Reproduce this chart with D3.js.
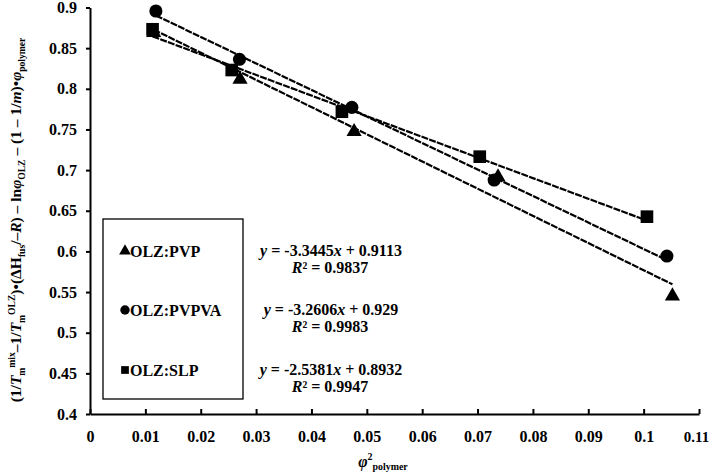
<!DOCTYPE html>
<html>
<head>
<meta charset="utf-8">
<script src="https://cdn.jsdelivr.net/npm/d3@7"></script>
<style>
  body { margin: 0; background: #fff; }
  text { font-family: "Liberation Serif", "Times New Roman", serif; font-weight: bold; fill: #000; }
</style>
</head>
<body>
<script>
// values
let seriesNames = ['OLZ:PVP', 'OLZ:PVPVA', 'OLZ:SLP']
let pvpX = [0.0115, 0.0271, 0.0477, 0.0737, 0.1052]
let pvpY = [0.869, 0.8117, 0.7472, 0.6915, 0.5451]
let pvpvaX = [0.0119, 0.0270, 0.0473, 0.0730, 0.1042]
let pvpvaY = [0.8957, 0.8363, 0.7772, 0.6878, 0.5943]
let slpX = [0.0113, 0.0256, 0.0455, 0.0704, 0.1006]
let slpY = [0.8732, 0.8231, 0.7718, 0.7165, 0.6427]
let slopes = [-3.3445, -3.2606, -2.5381]
let intercepts = [0.9113, 0.929, 0.8932]
let eqLabels = ['y = -3.3445x + 0.9113', 'y = -3.2606x + 0.929', 'y = -2.5381x + 0.8932']
let r2Labels = ['0.9837', '0.9983', '0.9947']
let xTicks = [0, 0.01, 0.02, 0.03, 0.04, 0.05, 0.06, 0.07, 0.08, 0.09, 0.1, 0.11]
let yTicks = [0.4, 0.45, 0.5, 0.55, 0.6, 0.65, 0.7, 0.75, 0.8, 0.85, 0.9]

let width = 711, height = 476
let x = d3.scaleLinear().domain([0, 0.11]).range([90, 699])
let y = d3.scaleLinear().domain([0.4, 0.9]).range([414, 7.5])

let svg = d3.select('body').append('svg')
  .attr('width', width)
  .attr('height', height)

let fmt = d => d === 0 ? '0' : String(+d.toFixed(2))

// axes
let yAxis = svg.append('g')
  .attr('transform', 'translate(' + x(0) + ',0)')
  .call(d3.axisLeft(y).tickValues(yTicks).tickFormat(fmt).tickSizeInner(4).tickSizeOuter(0).tickPadding(9))
let xAxis = svg.append('g')
  .attr('transform', 'translate(0,' + y(0.4) + ')')
  .call(d3.axisBottom(x).tickValues(xTicks).tickFormat(fmt).tickSizeInner(-5).tickSizeOuter(0).tickPadding(17))

;[yAxis, xAxis].forEach(g => {
  g.selectAll('path, line').attr('stroke', '#000').attr('stroke-width', 2)
  g.selectAll('text').attr('font-size', 16).attr('font-family', '"Liberation Serif", serif').attr('font-weight', 'bold')
})
// last x label sits against the right edge
xAxis.selectAll('.tick text').filter(d => d === 0.11).attr('font-size', 15).attr('dx', -3)

// trend lines
let series = [
  { xs: pvpX, ys: pvpY, shape: d3.symbolTriangle },
  { xs: pvpvaX, ys: pvpvaY, shape: d3.symbolCircle },
  { xs: slpX, ys: slpY, shape: d3.symbolSquare }
]

series.forEach((s, i) => {
  let x0 = d3.min(s.xs), x1 = d3.max(s.xs)
  svg.append('line')
    .attr('x1', x(x0)).attr('y1', y(slopes[i] * x0 + intercepts[i]))
    .attr('x2', x(x1)).attr('y2', y(slopes[i] * x1 + intercepts[i]))
    .attr('stroke', '#000')
    .attr('stroke-width', 2.2)
    .attr('stroke-dasharray', '7,1.2')
})

// markers
let markerSize = [100, 135, 160]
series.forEach((s, i) => {
  svg.append('g').selectAll('path')
    .data(s.xs.map((v, j) => [v, s.ys[j]]))
    .join('path')
    .attr('transform', d => 'translate(' + x(d[0]) + ',' + y(d[1]) + ')')
    .attr('d', d3.symbol().type(s.shape).size(markerSize[i]))
    .attr('fill', '#000')
})

// legend box
svg.append('rect')
  .attr('x', 103).attr('y', 219)
  .attr('width', 140).attr('height', 180)
  .attr('fill', 'none')
  .attr('stroke', '#000')
  .attr('stroke-width', 1.3)

let rowY = [252, 311, 371]
series.forEach((s, i) => {
  svg.append('path')
    .attr('transform', 'translate(125,' + (rowY[i] - 1) + ')')
    .attr('d', d3.symbol().type(s.shape).size(i === 1 ? 70 : 60))
    .attr('fill', '#000')
  svg.append('text')
    .attr('x', 130).attr('y', rowY[i] + 5)
    .attr('font-size', 16)
    .text(seriesNames[i])

  // equation and R²
  let eq = svg.append('text')
    .attr('x', 331).attr('y', rowY[i] + 4)
    .attr('text-anchor', 'middle')
    .attr('font-size', 16)
  let parts = eqLabels[i].split('x')
  eq.append('tspan').attr('font-style', 'italic').text('y')
  eq.append('tspan').text(parts[0].slice(1))
  eq.append('tspan').attr('font-style', 'italic').text('x')
  eq.append('tspan').text(parts[1])

  let r2 = svg.append('text')
    .attr('x', 330).attr('y', rowY[i] + 21)
    .attr('text-anchor', 'middle')
    .attr('font-size', 16)
  r2.append('tspan').attr('font-style', 'italic').text('R')
  r2.append('tspan').text('² = ' + r2Labels[i])
})

// rich text helper: segments of [text, italic, shift]
let rich = (sel, segs, base) => {
  let cur = 0
  segs.forEach(s => {
    let shift = s[2] || 0
    let t = sel.append('tspan')
      .attr('dy', shift - cur)
      .text(s[0])
    if (s[1]) t.attr('font-style', 'italic')
    if (shift !== 0) t.attr('font-size', base * 0.62)
    cur = shift
  })
}

// y axis title
let yt = svg.append('text')
  .attr('transform', 'translate(21,220) rotate(-90)')
  .attr('text-anchor', 'middle')
  .attr('font-size', 15.5)
rich(yt, [
  ['(1/'], ['T', true], ['m', false, 4], ['mix', false, -6], ['–1/'], ['T', true], ['m', false, 4], ['OLZ', false, -6],
  [')•(ΔH', false], ['fus', false, 4], ['/–'], ['R', true], [') – ln'], ['φ', true], ['OLZ', false, 4],
  [' – (1 – 1/'], ['m', true], [')•'], ['φ', true], ['polymer', false, 4]
], 15.5)

// x axis title
let xt = svg.append('text')
  .attr('x', 383).attr('y', 467)
  .attr('text-anchor', 'middle')
  .attr('font-size', 16)
rich(xt, [['φ', true], ['2', false, -7], ['polymer', false, 3]], 16)
</script>
</body>
</html>
